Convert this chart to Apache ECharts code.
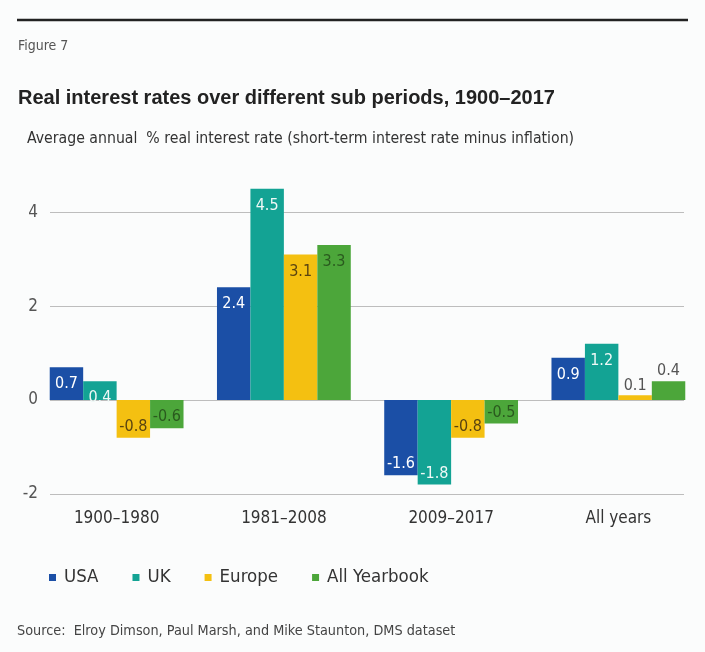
<!DOCTYPE html>
<html>
<head>
<meta charset="utf-8">
<script src="https://cdn.jsdelivr.net/npm/echarts@6/dist/echarts.min.js"></script>
<style>
  html, body { margin: 0; padding: 0; background: #fbfcfc; }
  #main { width: 705px; height: 652px; }
</style>
</head>
<body>
<div id="main"></div>
<script>
var periods = ['1900–1980', '1981–2008', '2009–2017', 'All years'];
var usa = [0.7, 2.4, -1.6, 0.9];
var uk = [0.4, 4.5, -1.8, 1.2];
var europe = [-0.8, 3.1, -0.8, 0.1];
var allYearbook = [-0.6, 3.3, -0.5, 0.4];
var yTicks = [-2, 0, 2, 4];

var narrow = "'Liberation Sans Narrow', 'DejaVu Sans Condensed', sans-serif";
var chart = echarts.init(document.getElementById('main'));

// bar labels: inside the bar end, except tiny bars where it sits above
function items(values, outside) {
    return values.map(function (v, i) {
        var pos;
        if (outside && outside.indexOf(i) >= 0) {
            pos = { position: 'top', distance: 2, color: '#555' };
        } else if (v >= 0) {
            pos = { position: 'insideTop', distance: 9 };
        } else {
            pos = { position: 'insideBottom', distance: 3 };
        }
        return { value: v, label: pos };
    });
}

function barSeries(name, values, color, textColor, outside) {
    return {
        name: name,
        type: 'bar',
        xAxisIndex: 0,
        yAxisIndex: 0,
        barGap: '0%',
        barCategoryGap: '20%',
        itemStyle: { color: color },
        label: {
            show: true,
            color: textColor,
            fontFamily: narrow,
            fontSize: 16
        },
        data: items(values, outside)
    };
}

var option = {
    backgroundColor: '#fbfcfc',
    animation: false,
    title: [
        { text: 'Figure 7', left: 13, top: 34,
          textStyle: { fontFamily: narrow, fontSize: 14, fontWeight: 'normal', color: '#555' } },
        { text: 'Real interest rates over different sub periods, 1900–2017', left: 13, top: 83,
          textStyle: { fontFamily: "'Liberation Sans', Arial, sans-serif", fontSize: 20, fontWeight: 'bold', color: '#222' } },
        { text: 'Average annual  % real interest rate (short-term interest rate minus inflation)', left: 22, top: 126,
          textStyle: { fontFamily: narrow, fontSize: 15.7, fontWeight: 'normal', color: '#333' } },
        { text: 'Source:  Elroy Dimson, Paul Marsh, and Mike Staunton, DMS dataset', left: 12, top: 619,
          textStyle: { fontFamily: narrow, fontSize: 14.3, fontWeight: 'normal', color: '#444' } }
    ],
    graphic: [
        { type: 'line', shape: { x1: 17, y1: 20, x2: 688, y2: 20 },
          style: { stroke: '#222', lineWidth: 2.5 } }
    ],
    legend: {
        left: 44,
        top: 563,
        icon: 'rect',
        itemWidth: 7,
        itemHeight: 7,
        itemGap: 34,
        textStyle: { fontFamily: narrow, fontSize: 18.5, color: '#333', padding: [0, 0, 0, 3] },
        data: ['USA', 'UK', 'Europe', 'All Yearbook']
    },
    grid: [
        { left: 33, right: 3, top: 184, bottom: 158 },
        { left: 50, right: 21, top: 184, bottom: 158 }
    ],
    xAxis: [
        {
            type: 'category',
            gridIndex: 0,
            data: periods,
            axisLine: { show: false },
            axisTick: { show: false },
            axisLabel: { margin: 16, fontFamily: narrow, fontSize: 17, color: '#333' }
        },
        {
            type: 'category',
            gridIndex: 1,
            data: periods,
            show: false
        }
    ],
    yAxis: [
        { type: 'value', gridIndex: 0, min: -2, max: 4.6, show: false },
        {
            type: 'value',
            gridIndex: 1,
            min: yTicks[0],
            max: 4.6,
            interval: 2,
            axisLine: { show: false },
            axisTick: { show: false },
            axisLabel: {
                margin: 12,
                showMaxLabel: false,
                fontFamily: narrow,
                fontSize: 17,
                color: '#555'
            },
            splitLine: {
                showMaxLine: false,
                lineStyle: { color: '#bdbdbd', width: 1.2 }
            }
        }
    ],
    series: [
        barSeries('USA', usa, '#1b4fa6', '#ffffff'),
        barSeries('UK', uk, '#13a394', '#eef8f6'),
        barSeries('Europe', europe, '#f4c011', '#5a4410', [3]),
        barSeries('All Yearbook', allYearbook, '#4ca63a', '#2a5a1e', [3])
    ]
};

chart.setOption(option);
</script>
</body>
</html>
